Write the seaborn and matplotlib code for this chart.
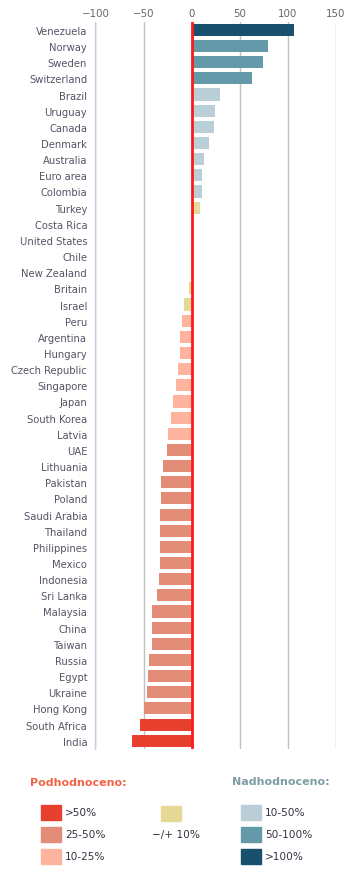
import pandas as pd
import matplotlib.pyplot as plt
import seaborn as sns
from matplotlib.patches import Rectangle

sns.set_theme(style="white")
plt.rcParams['font.family'] = ['DejaVu Sans']

# Data
countries = ['Venezuela', 'Norway', 'Sweden', 'Switzerland', 'Brazil', 'Uruguay',
             'Canada', 'Denmark', 'Australia', 'Euro area', 'Colombia', 'Turkey',
             'Costa Rica', 'United States', 'Chile', 'New Zealand', 'Britain',
             'Israel', 'Peru', 'Argentina', 'Hungary', 'Czech Republic',
             'Singapore', 'Japan', 'South Korea', 'Latvia', 'UAE', 'Lithuania',
             'Pakistan', 'Poland', 'Saudi Arabia', 'Thailand', 'Philippines',
             'Mexico', 'Indonesia', 'Sri Lanka', 'Malaysia', 'China', 'Taiwan',
             'Russia', 'Egypt', 'Ukraine', 'Hong Kong', 'South Africa', 'India']
values = [107, 79, 74, 63, 29, 24.5, 23.5, 18, 12.5, 11, 11, 9,
          0, 0, -0.5, -0.5, -3, -8,
          -10.5, -12.5, -12.5, -14.5, -16.5, -19.5, -21.5, -24.5,
          -25.2, -30, -32, -32, -33, -33, -33, -33, -34, -36,
          -41.5, -41.5, -41.5, -44.5, -45.5, -46.5, -49.7, -54, -62]
groups = ['>100%', '50-100%', '50-100%', '50-100%'] + ['10-50%'] * 7 + \
         ['-/+ 10%'] * 7 + ['10-25%'] * 8 + ['25-50%'] * 17 + ['>50%'] * 2

group_colors = {
    '>50%': '#e8402e', '25-50%': '#e38c77', '10-25%': '#feb39e',
    '-/+ 10%': '#e6d895',
    '10-50%': '#b9ced7', '50-100%': '#6399a8', '>100%': '#19506e',
}

df = pd.DataFrame({'country': countries, 'value': values, 'group': groups})

fig = plt.figure(figsize=(3.55, 8.78), dpi=100)
ax = fig.add_axes([0.269, 0.146, 0.677, 0.828])

sns.barplot(data=df, x='value', y='country', hue='group', palette=group_colors,
            dodge=False, legend=False, width=0.75, orient='h', ax=ax,
            edgecolor='none', saturation=1)

ax.set_xlim(-100, 150)
ax.set_xticks([-100, -50, 0, 50, 100, 150])
ax.set_xticklabels(['\u2212100', '\u221250', '0', '50', '100', '150'])
ax.xaxis.tick_top()
ax.set_xlabel('')
ax.set_ylabel('')
ax.grid(axis='x', color='#c0c0c0', linewidth=1)
ax.set_axisbelow(True)
ax.axvline(0, color='#ff1a1a', linewidth=2, zorder=5)
for s in ['top', 'right', 'bottom']:
    ax.spines[s].set_visible(False)
ax.spines['left'].set_color('#c0d0e0')
ax.spines['left'].set_linewidth(1)
ax.tick_params(axis='x', length=0, labelsize=7.4, colors='#666666', pad=3)
ax.tick_params(axis='y', length=0, labelsize=7.2, colors='#555566', pad=6)

# Legend drawn in pixel coordinates of the figure bottom
lg = fig.add_axes([0, 0, 1, 118 / 878])
lg.set_xlim(0, 355)
lg.set_ylim(878, 760)
lg.axis('off')

lg.text(30, 783, 'Podhodnoceno:', color='#f26446', fontsize=8, fontweight='bold',
        va='center', ha='left')
lg.text(232, 782, 'Nadhodnoceno:', color='#7d9ea3', fontsize=8, fontweight='bold',
        va='center', ha='left')

legend_items = [
    (41, 806, '>50%'), (41, 828, '25-50%'), (41, 850, '10-25%'),
    (241, 806, '10-50%'), (241, 828, '50-100%'), (241, 850, '>100%'),
]
for x, y, key in legend_items:
    lg.add_patch(Rectangle((x, y), 20, 15, color=group_colors[key]))
    lg.text(x + 24, y + 7.5, key, fontsize=7.6, color='#333344', va='center', ha='left')

lg.add_patch(Rectangle((161, 807), 20, 15, color=group_colors['-/+ 10%']))
lg.text(176, 835, '\u2212/+ 10%', fontsize=7.6, color='#333344', va='center', ha='center')

fig.savefig('out.png', dpi=100)
plt.close()
